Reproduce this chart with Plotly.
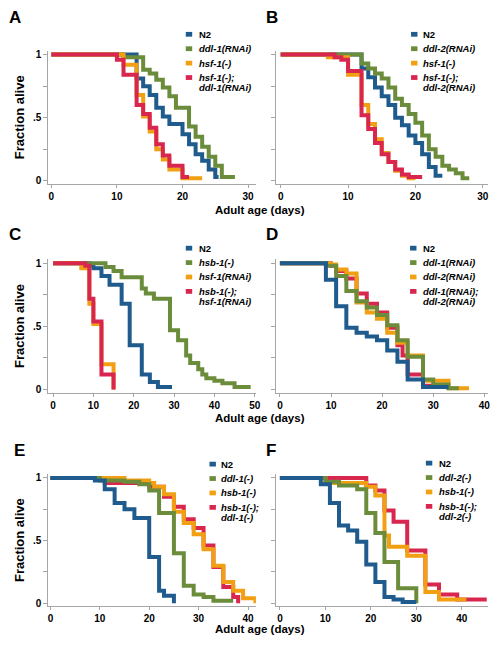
import plotly.graph_objects as go

W, H = 503, 648

# ---------------- data ----------------
# Panel A
a_labels = ["N2", "ddl-1(RNAi)", "hsf-1(-)", "hsf-1(-); ddl-1(RNAi)"]
a_n2_days = [0, 13, 14, 15, 16, 17, 18, 20, 21, 22, 23, 24, 25, 25.5]
a_n2_frac = [1, 0.81, 0.75, 0.68, 0.58, 0.51, 0.45, 0.37, 0.29, 0.21, 0.16, 0.09, 0.03, 0.03]
a_g_days = [0, 11, 14, 15, 16, 17, 18, 19, 21, 22, 23, 24, 25, 26, 28]
a_g_frac = [1, 0.98, 0.88, 0.85, 0.8, 0.74, 0.67, 0.58, 0.43, 0.35, 0.27, 0.19, 0.12, 0.03, 0.03]
a_o_days = [0, 11, 13, 14, 15, 16, 17, 18, 20, 23]
a_o_frac = [1, 0.92, 0.68, 0.51, 0.39, 0.25, 0.17, 0.09, 0.02, 0.02]
a_r_days = [0, 10, 11, 13, 14, 15, 16, 17, 18, 20, 21]
a_r_frac = [1, 0.96, 0.84, 0.6, 0.53, 0.42, 0.29, 0.2, 0.12, 0.03, 0.03]

# Panel B
b_labels = ["N2", "ddl-2(RNAi)", "hsf-1(-)", "hsf-1(-); ddl-2(RNAi)"]
b_n2_days = [0, 12, 13, 14, 15, 16, 17, 18, 19, 20, 21, 22, 23, 24]
b_n2_frac = [1, 0.89, 0.82, 0.74, 0.67, 0.6, 0.5, 0.44, 0.36, 0.3, 0.21, 0.11, 0.04, 0.04]
b_g_days = [0, 12, 13, 14, 15, 16, 17, 18, 19, 20, 21, 22, 23, 24, 25, 26, 27, 28]
b_g_frac = [1, 0.93, 0.89, 0.85, 0.81, 0.74, 0.65, 0.6, 0.53, 0.46, 0.36, 0.25, 0.19, 0.12, 0.09, 0.06, 0.02, 0.02]
b_o_days = [0, 7, 10, 12, 13, 14, 15, 16, 17, 18, 19, 20]
b_o_frac = [1, 0.98, 0.84, 0.6, 0.45, 0.33, 0.22, 0.15, 0.08, 0.04, 0.02, 0.02]
b_r_days = [0, 8, 9, 10, 12, 13, 14, 15, 16, 17, 18, 19, 21]
b_r_frac = [1, 0.98, 0.96, 0.87, 0.52, 0.41, 0.3, 0.21, 0.15, 0.09, 0.05, 0.03, 0.03]

# Panel C
c_labels = ["N2", "hsb-1(-)", "hsf-1(RNAi)", "hsb-1(-); hsf-1(RNAi)"]
c_n2_days = [0, 9, 10, 12, 14, 17, 19, 22, 24, 26, 29.5]
c_n2_frac = [1, 0.98, 0.96, 0.9, 0.83, 0.68, 0.35, 0.12, 0.06, 0.02, 0.02]
c_g_days = [0, 13, 15, 17, 22, 23, 25, 29, 31, 33, 34, 36, 37, 38, 40, 42, 45, 49]
c_g_frac = [1, 0.97, 0.94, 0.89, 0.8, 0.76, 0.72, 0.47, 0.39, 0.27, 0.21, 0.16, 0.12, 0.09, 0.07, 0.05, 0.02, 0.02]
c_o_days = [0, 7, 9, 10, 12, 15]
c_o_frac = [1, 0.96, 0.68, 0.52, 0.2, 0]
c_r_days = [0, 8, 9, 10, 12, 15]
c_r_frac = [1, 0.98, 0.72, 0.54, 0.12, 0]

# Panel D
d_labels = ["N2", "ddl-1(RNAi)", "ddl-2(RNAi)", "ddl-1(RNAi); ddl-2(RNAi)"]
d_n2_days = [0, 9, 11, 13, 15, 17, 19, 21, 23, 25, 28, 33]
d_n2_frac = [1, 0.87, 0.66, 0.49, 0.45, 0.42, 0.39, 0.31, 0.22, 0.08, 0.02, 0.02]
d_g_days = [0, 9, 11, 13, 15, 17, 19, 21, 23, 25, 28, 30, 33, 35]
d_g_frac = [1, 0.98, 0.9, 0.78, 0.7, 0.65, 0.59, 0.51, 0.39, 0.26, 0.08, 0.04, 0.01, 0.01]
d_o_days = [0, 10, 11, 13, 15, 17, 19, 21, 23, 25, 28, 33, 37]
d_o_frac = [1, 0.99, 0.95, 0.92, 0.69, 0.61, 0.56, 0.45, 0.37, 0.27, 0.07, 0.01, 0.01]
d_r_days = [0, 10, 11, 13, 15, 17, 19, 21, 23, 24, 25, 28, 33]
d_r_frac = [1, 0.98, 0.94, 0.88, 0.76, 0.68, 0.61, 0.49, 0.35, 0.27, 0.12, 0.03, 0.03]

# Panel E
e_labels = ["N2", "ddl-1(-)", "hsb-1(-)", "hsb-1(-); ddl-1(-)"]
e_n2_days = [0, 9, 11, 13, 15, 17, 20, 22, 23, 25]
e_n2_frac = [1, 0.98, 0.91, 0.8, 0.75, 0.68, 0.37, 0.1, 0.06, 0]
e_g_days = [0, 10, 15, 18, 20, 22, 25, 27, 29, 31, 33, 37]
e_g_frac = [1, 0.98, 0.97, 0.95, 0.9, 0.72, 0.4, 0.14, 0.07, 0.05, 0.02, 0.02]
e_o_days = [0, 15, 20, 21, 23, 25, 27, 29, 31, 33, 35, 37, 39, 41.5]
e_o_frac = [1, 0.98, 0.96, 0.93, 0.87, 0.73, 0.64, 0.55, 0.43, 0.3, 0.17, 0.1, 0.04, 0]
e_r_days = [0, 11, 20, 23, 25, 27, 29, 31, 33, 35, 37, 38]
e_r_frac = [1, 0.96, 0.93, 0.85, 0.77, 0.67, 0.6, 0.46, 0.29, 0.13, 0.05, 0]

# Panel F
f_labels = ["N2", "ddl-2(-)", "hsb-1(-)", "hsb-1(-); ddl-2(-)"]
f_n2_days = [0, 9, 11, 13, 15, 17, 19, 21, 23, 25, 27, 30]
f_n2_frac = [1, 0.95, 0.8, 0.62, 0.58, 0.49, 0.31, 0.17, 0.05, 0.03, 0.01, 0.01]
f_g_days = [0, 10, 13, 17, 19, 21, 23, 26, 30]
f_g_frac = [1, 0.97, 0.94, 0.91, 0.72, 0.56, 0.33, 0.12, 0]
f_o_days = [0, 10, 19, 21, 23, 24, 28, 32, 35, 41]
f_o_frac = [1, 0.96, 0.93, 0.86, 0.54, 0.45, 0.38, 0.09, 0.03, 0.03]
f_r_days = [0, 19, 21, 23, 25, 28, 32, 35, 39, 45.5]
f_r_frac = [1, 0.94, 0.9, 0.74, 0.65, 0.42, 0.15, 0.07, 0.03, 0.03]

x_ticks_30 = [0, 10, 20, 30]
x_ticks_40 = [0, 10, 20, 30, 40]
x_ticks_50 = [0, 10, 20, 30, 40, 50]
y_tickvals = [0, 0.25, 0.5, 0.75, 1]
y_ticktext = ["0", "", ".5", "", "1"]

COLORS = ["#1f5b8c", "#6b8d3b", "#f0a012", "#d8264e"]
FONT = "Liberation Sans, Arial, sans-serif"

# ---------------- layout geometry (pixels) ----------------
panels = [
    dict(letter="A", labels=a_labels, series=[(a_n2_days, a_n2_frac), (a_g_days, a_g_frac), (a_o_days, a_o_frac), (a_r_days, a_r_frac)],
         col=0, row=0, xr=[-0.45, 31.2], xt=x_ticks_30, order=[0, 1, 2, 3], letter_xy=(14, 16), leg=(187, 198, 32.5)),
    dict(letter="B", labels=b_labels, series=[(b_n2_days, b_n2_frac), (b_g_days, b_g_frac), (b_o_days, b_o_frac), (b_r_days, b_r_frac)],
         col=1, row=0, xr=[-0.75, 30.8], xt=x_ticks_30, order=[0, 1, 2, 3], letter_xy=(274, 16), leg=(415, 425, 32.5)),
    dict(letter="C", labels=c_labels, series=[(c_n2_days, c_n2_frac), (c_g_days, c_g_frac), (c_o_days, c_o_frac), (c_r_days, c_r_frac)],
         col=0, row=1, xr=[-1.15, 50.3], xt=x_ticks_50, order=[0, 1, 2, 3], letter_xy=(14, 234), leg=(187, 198, 247.7)),
    dict(letter="D", labels=d_labels, series=[(d_n2_days, d_n2_frac), (d_g_days, d_g_frac), (d_o_days, d_o_frac), (d_r_days, d_r_frac)],
         col=1, row=1, xr=[-0.83, 40.75], xt=x_ticks_40, order=[3, 2, 1, 0], letter_xy=(274, 234), leg=(414, 425, 247.7)),
    dict(letter="E", labels=e_labels, series=[(e_n2_days, e_n2_frac), (e_g_days, e_g_frac), (e_o_days, e_o_frac), (e_r_days, e_r_frac)],
         col=0, row=2, xr=[-0.4, 41.6], xt=x_ticks_40, order=[3, 2, 1, 0], letter_xy=(19, 451), leg=(211, 221, 465)),
    dict(letter="F", labels=f_labels, series=[(f_n2_days, f_n2_frac), (f_g_days, f_g_frac), (f_o_days, f_o_frac), (f_r_days, f_r_frac)],
         col=1, row=2, xr=[-0.93, 45.8], xt=x_ticks_40, order=[3, 2, 1, 0], letter_xy=(273, 451), leg=(430, 441, 464)),
]

col_px = [(48, 258), (278, 493)]
row_px = [(49, 183), (259, 393), (475, 608)]
xtitle_y = [209, 419, 631]


def px(x):
    return x / W


def py(y):
    return 1 - y / H


fig = go.Figure()
layout = dict(
    width=W, height=H, margin=dict(l=0, r=0, t=0, b=0),
    paper_bgcolor="white", plot_bgcolor="white", showlegend=False,
    font=dict(family=FONT, color="black"),
)
annotations = []
shapes = []

for i, p in enumerate(panels):
    n = i + 1
    xa = "x" if n == 1 else f"x{n}"
    ya = "y" if n == 1 else f"y{n}"
    c0, c1 = col_px[p["col"]]
    r0, r1 = row_px[p["row"]]
    layout["xaxis" if n == 1 else f"xaxis{n}"] = dict(
        domain=[px(c0), px(c1)], anchor=ya, range=p["xr"], tickvals=p["xt"],
        showgrid=False, zeroline=False, showline=True, linecolor="#a6a6a6", linewidth=1,
        ticks="outside", ticklen=3, tickcolor="#a6a6a6",
        tickfont=dict(size=10, weight="bold", family=FONT), fixedrange=True,
    )
    yax = dict(
        domain=[py(r1), py(r0)], anchor=xa, range=[-0.024, 1.031],
        tickvals=y_tickvals, ticktext=y_ticktext,
        showgrid=False, zeroline=False, showline=True, linecolor="#a6a6a6", linewidth=1,
        ticks="outside", ticklen=4, tickcolor="#a6a6a6",
        tickfont=dict(size=10, weight="bold", family=FONT), fixedrange=True,
        showticklabels=(p["col"] == 0),
    )
    if p["col"] == 0:
        yax["title"] = dict(text="Fraction alive", font=dict(size=13, weight="bold", family=FONT), standoff=5)
    layout["yaxis" if n == 1 else f"yaxis{n}"] = yax

    for k in p["order"]:
        days, frac = p["series"][k]
        fig.add_trace(go.Scatter(
            x=days, y=frac, mode="lines", name=p["labels"][k],
            line=dict(color=COLORS[k], width=4, shape="hv"),
            xaxis=xa, yaxis=ya, hoverinfo="skip",
        ))

    # panel letter
    lx, ly = p["letter_xy"]
    annotations.append(dict(text=p["letter"], x=px(lx), y=py(ly), xref="paper", yref="paper",
                            showarrow=False, xanchor="center", yanchor="middle",
                            font=dict(size=17, weight="bold", family=FONT)))

    # legend (keys + labels)
    bx, tx, y0 = p["leg"]
    for k, lab in enumerate(p["labels"]):
        yc = y0 + 14.5 * k
        shapes.append(dict(type="rect", xref="paper", yref="paper",
                           x0=px(bx), x1=px(bx + 6.5), y0=py(yc + 2.4), y1=py(yc - 2.4),
                           fillcolor=COLORS[k], line=dict(width=0)))
        lines = lab.split("; ")
        for j, part in enumerate(lines):
            txt = part + (";" if j < len(lines) - 1 else "")
            annotations.append(dict(text=txt, x=px(tx), y=py(yc + 10.3 * j), xref="paper", yref="paper",
                                    showarrow=False, xanchor="left", yanchor="middle",
                                    font=dict(size=9.5, weight="bold", family=FONT,
                                              style="normal" if lab == "N2" else "italic")))

for yt in xtitle_y:
    annotations.append(dict(text="Adult age (days)", x=px(262), y=py(yt), xref="paper", yref="paper",
                            showarrow=False, xanchor="center", yanchor="middle",
                            font=dict(size=11.5, weight="bold", family=FONT)))

layout["annotations"] = annotations
layout["shapes"] = shapes
fig.update_layout(**layout)
fig.write_html("out.html", config={"staticPlot": True},
               post_script="document.body.style.margin='0';document.body.style.overflow='hidden';")
